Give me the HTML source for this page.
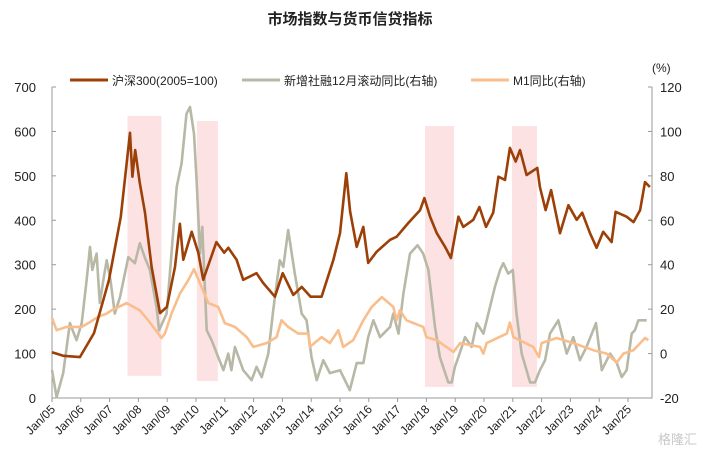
<!DOCTYPE html>
<html><head><meta charset="utf-8"><style>
body{margin:0;background:#fff;}
svg{font-family:"Liberation Sans","Noto Sans CJK SC",sans-serif;}
</style></head><body>
<svg id="chart" width="701" height="454" viewBox="0 0 701 454" xmlns="http://www.w3.org/2000/svg">
<text x="350" y="24" text-anchor="middle" font-size="15" font-weight="bold" fill="#222">市场指数与货币信贷指标</text>
<text x="652" y="72" font-size="12" fill="#222">(%)</text>
<g>
<line x1="70" y1="80" x2="108" y2="80" stroke="#9C4008" stroke-width="3"/>
<text x="112" y="85" font-size="12" fill="#222">沪深300(2005=100)</text>
<line x1="242" y1="80" x2="280" y2="80" stroke="#B8B8A6" stroke-width="3"/>
<text x="284" y="85" font-size="12" fill="#222">新增社融12月滚动同比(右轴)</text>
<line x1="471" y1="80" x2="509" y2="80" stroke="#F9BE8C" stroke-width="3"/>
<text x="513" y="85" font-size="12" fill="#222">M1同比(右轴)</text>
</g>
<g id="shades"></g><g id="axes"></g><g id="series"></g>
<text x="658" y="444" font-size="13" fill="#c8c8c8">格隆汇</text>
</svg>
<script>
const yearTicks=["Jan/05","Jan/06","Jan/07","Jan/08","Jan/09","Jan/10","Jan/11","Jan/12","Jan/13","Jan/14","Jan/15","Jan/16","Jan/17","Jan/18","Jan/19","Jan/20","Jan/21","Jan/22","Jan/23","Jan/24","Jan/25"];
const leftTicks=[0,100,200,300,400,500,600,700];
const rightTicks=[-20,0,20,40,60,80,100,120];
const shadeStart=[2007.62,2010.03,2017.95,2020.97];
const shadeEnd=[2008.8,2010.76,2018.96,2021.84];
const shadeTop=[107,104.7,102.4,102.4];
const shadeBottom=[-10,-12.4,-15,-15];
const hsDates=[2005.0,2005.39,2005.97,2006.46,2006.98,2007.39,2007.71,2007.79,2007.89,2008.05,2008.23,2008.46,2008.75,2008.99,2009.27,2009.44,2009.56,2009.85,2010.08,2010.25,2010.71,2010.98,2011.12,2011.41,2011.64,2012.1,2012.33,2012.74,2013.01,2013.38,2013.67,2013.98,2014.36,2014.77,2015.0,2015.22,2015.35,2015.58,2015.81,2015.98,2016.27,2016.74,2016.97,2017.37,2017.78,2017.93,2018.13,2018.36,2018.65,2018.85,2019.11,2019.28,2019.63,2019.84,2020.07,2020.32,2020.5,2020.73,2020.9,2021.1,2021.25,2021.48,2021.85,2021.94,2022.14,2022.33,2022.64,2022.93,2023.22,2023.41,2023.68,2023.91,2024.14,2024.43,2024.57,2024.95,2025.19,2025.42,2025.59,2025.76];
const hsValues=[103,95,92,146,266,408,597,498,558,484,417,295,191,205,295,392,311,374,327,266,351,327,338,311,266,281,259,228,281,232,250,228,228,311,371,506,420,340,385,304,329,356,363,394,423,450,408,371,340,315,408,385,401,430,385,417,498,491,563,532,558,502,518,475,423,468,371,434,401,417,371,338,374,351,419,408,396,423,486,475];
const tsfDates=[2005.0,2005.16,2005.39,2005.62,2005.85,2006.03,2006.2,2006.32,2006.4,2006.55,2006.66,2006.78,2006.9,2007.03,2007.18,2007.36,2007.65,2007.88,2008.05,2008.23,2008.4,2008.63,2008.72,2008.98,2009.15,2009.33,2009.5,2009.67,2009.79,2009.93,2010.02,2010.14,2010.22,2010.37,2010.54,2010.77,2010.95,2011.12,2011.23,2011.35,2011.64,2011.93,2012.1,2012.28,2012.51,2012.68,2012.91,2013.03,2013.2,2013.43,2013.67,2013.84,2014.01,2014.19,2014.42,2014.65,2015.0,2015.34,2015.58,2015.81,2015.98,2016.16,2016.39,2016.74,2016.85,2017.03,2017.2,2017.43,2017.69,2017.89,2018.07,2018.3,2018.47,2018.76,2018.88,2018.99,2019.11,2019.34,2019.57,2019.75,2019.98,2020.21,2020.38,2020.56,2020.67,2020.84,2021.0,2021.13,2021.31,2021.6,2021.77,2021.94,2022.12,2022.29,2022.58,2022.87,2023.1,2023.33,2023.56,2023.89,2024.09,2024.38,2024.61,2024.78,2024.95,2025.13,2025.24,2025.36,2025.65];
const tsfValues=[-7.5,-19.6,-8.8,13.7,6,13.7,33,48,37.6,45,22.7,33,42,33,18,25.4,43.4,40.7,49.7,43,37.6,21,10.5,18,45,75,85.7,108,111,99,78,45,57,10.5,6,-1.6,-7.5,0,-7.5,3,-7.5,-12,-6,-10.6,0,19.5,42,39,55.6,36,18,15,-1.6,-12,-3,-8.8,-7.5,-16.5,-4.3,-4.3,7.4,15,7.4,12,18,9,27,45,48.8,45,37.6,12,-1.6,-13,-13,-6,-1.6,7.4,3,13.7,9,21,30,37.6,40.7,36,37.6,18,0,-13,-13,-7.5,-3,9,15,0,7.4,-3,3,13.7,-7.5,0,-4.3,-10.6,-7.5,9,10.5,15,15];
const m1Dates=[2005.0,2005.16,2005.51,2006.03,2006.26,2006.61,2006.9,2007.07,2007.59,2008.05,2008.34,2008.69,2008.8,2008.92,2009.15,2009.44,2009.73,2009.93,2010.19,2010.43,2010.77,2011.0,2011.35,2011.76,2011.99,2012.45,2012.8,2012.97,2013.2,2013.55,2013.9,2013.95,2014.36,2014.65,2014.94,2015.11,2015.46,2015.81,2016.1,2016.45,2016.85,2016.97,2017.08,2017.31,2017.89,2018.0,2018.36,2018.94,2019.17,2019.86,2019.98,2020.09,2020.79,2020.9,2021.02,2021.71,2021.91,2022.0,2022.52,2023.1,2023.8,2024.26,2024.61,2024.84,2025.19,2025.59,2025.71];
const m1Values=[16,10.5,12,12,13.7,16.6,18,19.5,22.7,19.5,15,9,7,9,18,27,33,38,30,22.7,21,13.7,12,7.4,3,4.7,7.4,15,12,9,9,3,7.4,4.7,10.5,3,6,15,21,25.4,21,15,19.5,15,12,7.4,6,0.7,4.7,3,0,4.7,9,14,7.4,3,-1.6,4.7,7,4.7,1.5,0,-4,0,1.5,7,6];

const X0=52,PX=28.8,YT=87,YB=398;
const xs=d=>X0+(d-2005)*PX;
const yl=v=>YB-(v/700)*(YB-YT);
const yr=v=>YB-((v+20)/140)*(YB-YT);
const NS="http://www.w3.org/2000/svg";
function mk(tag,parent,attrs){const e=document.createElementNS(NS,tag);for(const k in attrs)e.setAttribute(k,attrs[k]);parent.appendChild(e);return e;}
const shades=document.getElementById('shades'),axes=document.getElementById('axes'),series=document.getElementById('series');
for(let i=0;i<shadeStart.length;i++){
  const r=mk('rect',shades,{x:xs(shadeStart[i]),y:yr(shadeTop[i]),width:xs(shadeEnd[i])-xs(shadeStart[i]),height:yr(shadeBottom[i])-yr(shadeTop[i]),fill:'#FDE2E4'});
  
  
}
const ax=mk('path',axes,{d:`M${X0} ${YT}V${YB}H652V${YT}`,fill:'none',stroke:'#999','stroke-width':1});


leftTicks.forEach(v=>{
  mk('line',axes,{x1:X0,x2:X0+4,y1:yl(v),y2:yl(v),stroke:'#999'});
  const t=mk('text',axes,{x:X0-16,y:yl(v)+5,'text-anchor':'end','font-size':13,fill:'#222'});t.textContent=v;
  
  
});
rightTicks.forEach(v=>{
  mk('line',axes,{x1:648,x2:652,y1:yr(v),y2:yr(v),stroke:'#999'});
  const t=mk('text',axes,{x:660,y:yr(v)+5,'font-size':13,fill:'#222'});t.textContent=v;
  
  
});
yearTicks.forEach((s,i)=>{
  const x=xs(2005+i);
  mk('line',axes,{x1:x,x2:x,y1:YB,y2:YB+4,stroke:'#999'});
  const t=mk('text',axes,{x:x+4,y:YB+12,'text-anchor':'end','font-size':12,fill:'#222',transform:`rotate(-45 ${x+4} ${YB+12})`});t.textContent=s;
  
  
});
function line(dates,vals,yf,color,name){
  const d=dates.map((dt,i)=>(i?'L':'M')+xs(dt).toFixed(1)+' '+yf(vals[i]).toFixed(1)).join('');
  const p=mk('path',series,{d:d,fill:'none',stroke:color,'stroke-width':2.6,'stroke-linejoin':'round'});
  
  
}
line(tsfDates,tsfValues,yr,'#B8B8A6','tsf-line');
line(m1Dates,m1Values,yr,'#F9BE8C','m1-line');
line(hsDates,hsValues,yl,'#9C4008','hs300-line');
</script>
</body></html>
